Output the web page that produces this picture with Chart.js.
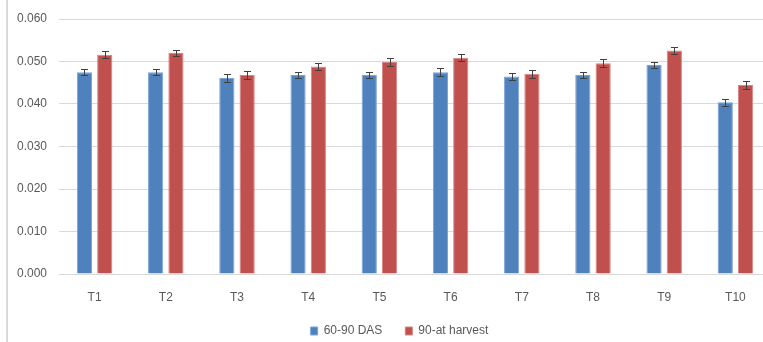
<!DOCTYPE html>
<html>
<head>
<meta charset="utf-8">
<script src="https://cdn.jsdelivr.net/npm/chart.js@4/dist/chart.umd.min.js"></script>
<style>
  html, body { margin: 0; padding: 0; background: #fff; overflow: hidden; width: 763px; height: 342px; }
  #frame { position: absolute; left: 6px; top: 0; width: 784px; height: 351px; border-left: 2px solid #d9d9d9; }
  canvas { display: block; }
</style>
</head>
<body>
<div id="frame"><canvas id="c" width="784" height="351"></canvas></div>
<script>
const categories = ["T1", "T2", "T3", "T4", "T5", "T6", "T7", "T8", "T9", "T10"];
const seriesNames = ["60-90 DAS", "90-at harvest"];
const das6090 = [0.0475, 0.0475, 0.0461, 0.0468, 0.0468, 0.0475, 0.0465, 0.0468, 0.0492, 0.0404];
const atHarvest = [0.0516, 0.0520, 0.0468, 0.0488, 0.0499, 0.0509, 0.0471, 0.0496, 0.0526, 0.0445];
const das6090Err = [0.00075, 0.0007, 0.00085, 0.00078, 0.0007, 0.0009, 0.0008, 0.00074, 0.00074, 0.00086];
const atHarvestErr = [0.0008, 0.0008, 0.0009, 0.0009, 0.0009, 0.0009, 0.0009, 0.0009, 0.00086, 0.0009];
const yTicks = [0.000, 0.010, 0.020, 0.030, 0.040, 0.050, 0.060];

const errors = [das6090Err, atHarvestErr];

const errorBarPlugin = {
  id: 'errorBars',
  afterDatasetsDraw(chart) {
    const ctx = chart.ctx;
    const y = chart.scales.y;
    ctx.save();
    ctx.strokeStyle = '#404040';
    ctx.lineWidth = 1;
    chart.data.datasets.forEach((ds, di) => {
      const meta = chart.getDatasetMeta(di);
      meta.data.forEach((bar, i) => {
        const v = ds.data[i];
        const e = errors[di][i];
        const x = Math.round(bar.x) + 0.5;
        const yTop = Math.round(y.getPixelForValue(v + e)) + 0.5;
        const yBot = Math.round(y.getPixelForValue(v - e)) + 0.5;
        ctx.beginPath();
        ctx.moveTo(x, yTop); ctx.lineTo(x, yBot);
        ctx.moveTo(x - 3.5, yTop); ctx.lineTo(x + 3.5, yTop);
        ctx.moveTo(x - 3.5, yBot); ctx.lineTo(x + 3.5, yBot);
        ctx.stroke();
      });
    });
    ctx.restore();
  }
};

const font = { family: "'Liberation Sans', Arial, sans-serif", size: 12 };

new Chart(document.getElementById('c'), {
  type: 'bar',
  data: {
    labels: categories,
    datasets: [
      { label: seriesNames[0], data: das6090, backgroundColor: '#4F81BD', borderColor: '#7ba3d6', borderWidth: 1 },
      { label: seriesNames[1], data: atHarvest, backgroundColor: '#C0504D', borderColor: '#d98482', borderWidth: 1 }
    ]
  },
  options: {
    responsive: false,
    animation: false,
    devicePixelRatio: 1,
    layout: { padding: { top: 19, right: 21, bottom: 4, left: 20 } },
    datasets: { bar: { barPercentage: 0.75, categoryPercentage: 0.57 } },
    scales: {
      x: {
        afterFit(scale) { scale.height = 28; },
        grid: { display: false, drawTicks: false },
        border: { display: false },
        ticks: { color: '#595959', font: font, padding: 16 }
      },
      y: {
        min: 0, max: 0.06,
        afterBuildTicks(scale) { scale.ticks = yTicks.map(v => ({ value: v })); },
        afterFit(scale) { scale.width = 31; },
        grid: { color: '#d9d9d9', drawTicks: false, lineWidth: 1 },
        border: { display: false },
        ticks: { color: '#595959', font: font, mirror: true, padding: -42, callback: v => Number(v).toFixed(3) }
      }
    },
    plugins: {
      legend: {
        position: 'bottom',
        labels: { color: '#595959', font: font, boxWidth: 7, boxHeight: 8, padding: 23, useBorderRadius: false }
      },
      tooltip: { enabled: false }
    }
  },
  plugins: [errorBarPlugin]
});
</script>
</body>
</html>
